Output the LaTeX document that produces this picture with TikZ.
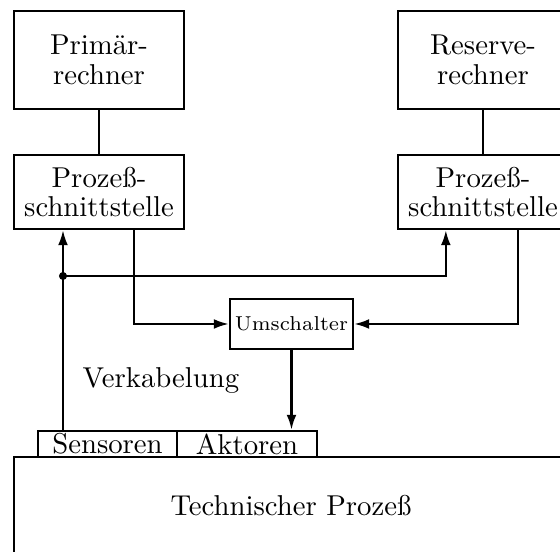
\documentclass[tikz,border=0pt]{standalone}
\usepackage{fontspec}
\usetikzlibrary{arrows.meta,calc}

\tikzset{
  unitbox/.style={draw, line width=0.8pt, inner sep=0pt, align=center,
    font=\fontsize{10}{10.2}\selectfont},
  plain/.style={line width=0.8pt},
  arr/.style={line width=0.8pt, -{Latex[length=5.2pt,width=3.4pt]}},
}

\begin{document}
\begin{tikzpicture}[x=0.348pt, y=-0.348pt]
  \useasboundingbox (0,0) rectangle (560,552);
  \clip (0,0) rectangle (560,552);

  % computers
  \node[unitbox, minimum width=59.16pt, minimum height=34.1pt] (prim) at (99,60) {Primär-\\rechner};
  \node[unitbox, minimum width=59.16pt, minimum height=34.1pt] (res) at (483,60) {Reserve-\\rechner};

  % process interfaces
  \node[unitbox, minimum width=59.16pt, minimum height=25.75pt] (psl) at (99,192) {Prozeß-\\schnittstelle};
  \node[unitbox, minimum width=59.16pt, minimum height=25.75pt] (psr) at (483,192) {Prozeß-\\schnittstelle};

  % switch
  \node[unitbox, minimum width=42.8pt, minimum height=17.4pt, font=\scriptsize] (ums) at (291.5,324) {Umschalter};

  % sensors / actuators and the technical process
  \node[unitbox, minimum width=48.37pt, minimum height=9.05pt] (sens) at (107.5,444) {Sensoren};
  \node[unitbox, minimum width=48.72pt, minimum height=9.05pt] (akt) at (247,444) {Aktoren};
  \node[unitbox, minimum width=192.8pt, minimum height=34.45pt] (tech) at (291,506.5) {};
  \node[font=\fontsize{10}{12}\selectfont] (techtxt) at (291,506) {Technischer Prozeß};

  \node[font=\fontsize{10}{12}\selectfont] (kabel) at (161,380) {Verkabelung};

  % connections
  \draw[plain] (prim.south) -- (psl.north);
  \draw[plain] (res.south) -- (psr.north);

  \coordinate (j) at (63,276);
  \draw[plain] (sens.north -| j) -- (j);
  \draw[arr] (j) -- (psl.south -| j);
  \draw[arr] (j) -| ($(psr.south west)+(49,0)$);
  \fill (j) circle[radius=1.4pt];

  \draw[arr] ($(psl.south west)+(121,0)$) |- (ums.west);
  \draw[arr] ($(psr.south west)+(121,0)$) |- (ums.east);
  \draw[arr] (ums.south) -- (akt.north -| ums.south);
\end{tikzpicture}
\end{document}
